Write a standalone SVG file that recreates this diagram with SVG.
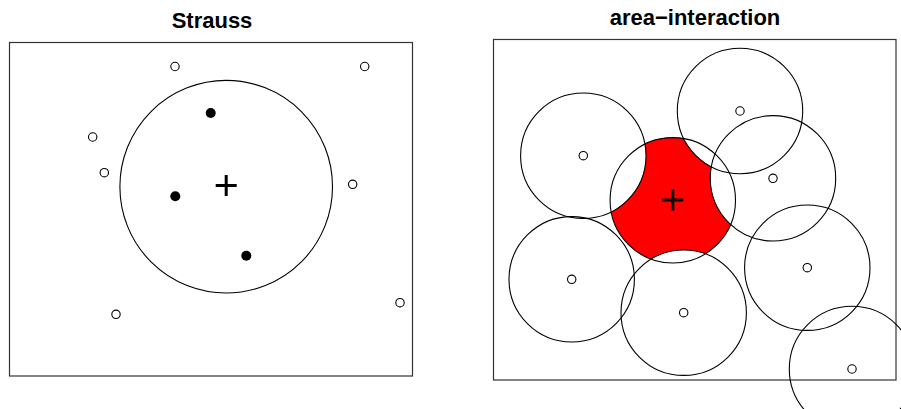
<svg xmlns="http://www.w3.org/2000/svg" width="901" height="409" viewBox="0 0 901 409">
<style>
.title{font-family:"Liberation Sans",Arial,sans-serif;font-weight:bold;font-size:22px;text-anchor:middle;fill:#000}
.box{fill:none;stroke:#333;stroke-width:1.2}
.ring{fill:none;stroke:#000;stroke-width:1.1}
.pt{fill:#fff;stroke:#000;stroke-width:1.1}
.dot{fill:#000}
.plus{stroke:#000;stroke-width:3;fill:none}
</style>
<defs>
<mask id="redmask" maskUnits="userSpaceOnUse" x="0" y="0" width="901" height="409">
<circle cx="672.8" cy="200.3" r="62.7" fill="#fff"/>
<circle cx="583.3" cy="155.7" r="62.7" fill="#000"/>
<circle cx="740" cy="111" r="62.7" fill="#000"/>
<circle cx="773" cy="178.3" r="62.7" fill="#000"/>
<circle cx="571.7" cy="279.3" r="62.7" fill="#000"/>
<circle cx="683.7" cy="312.7" r="62.7" fill="#000"/>
<circle cx="807.3" cy="267.7" r="62.7" fill="#000"/>
<circle cx="852" cy="369" r="62.7" fill="#000"/>
</mask>
</defs>
<rect width="901" height="409" fill="#fff"/>

<g id="strauss">
<text class="title" x="212" y="27.5">Strauss</text>
<rect class="box" x="9.5" y="42.5" width="403" height="333.5"/>
<circle class="ring" cx="226.2" cy="186.7" r="106.3"/>
<path class="plus" d="M215.7 185.5H236.7M226.2 175V196"/>
<circle class="dot" cx="210.7" cy="113" r="5"/>
<circle class="dot" cx="175.3" cy="196.3" r="5"/>
<circle class="dot" cx="246.3" cy="255.7" r="5"/>
<circle class="pt" cx="175" cy="66.5" r="4.2"/>
<circle class="pt" cx="364.7" cy="66.5" r="4.2"/>
<circle class="pt" cx="92.7" cy="137" r="4.2"/>
<circle class="pt" cx="104.3" cy="172.7" r="4.2"/>
<circle class="pt" cx="352.7" cy="184.3" r="4.2"/>
<circle class="pt" cx="116" cy="314.3" r="4.2"/>
<circle class="pt" cx="400" cy="302.7" r="4.2"/>
</g>

<g id="area-interaction">
<text class="title" x="695" y="25">area−interaction</text>
<rect class="box" x="493.5" y="39.5" width="402.5" height="340.5"/>
<circle cx="672.8" cy="200.3" r="62.7" fill="#f00" mask="url(#redmask)"/>
<g id="discs">
<circle class="ring" cx="672.8" cy="200.3" r="62.7"/>
<circle class="ring" cx="583.3" cy="155.7" r="62.7"/>
<circle class="ring" cx="740" cy="111" r="62.7"/>
<circle class="ring" cx="773" cy="178.3" r="62.7"/>
<circle class="ring" cx="571.7" cy="279.3" r="62.7"/>
<circle class="ring" cx="683.7" cy="312.7" r="62.7"/>
<circle class="ring" cx="807.3" cy="267.7" r="62.7"/>
<circle class="ring" cx="852" cy="369" r="62.7"/>
</g>
<path class="plus" d="M662.3 200H683.3M672.8 189.5V210.5"/>
<circle class="pt" cx="583.3" cy="155.7" r="4.2"/>
<circle class="pt" cx="740" cy="111" r="4.2"/>
<circle class="pt" cx="773" cy="178.3" r="4.2"/>
<circle class="pt" cx="571.7" cy="279.3" r="4.2"/>
<circle class="pt" cx="683.7" cy="312.7" r="4.2"/>
<circle class="pt" cx="807.3" cy="267.7" r="4.2"/>
<circle class="pt" cx="852" cy="369" r="4.2"/>
</g>
</svg>
